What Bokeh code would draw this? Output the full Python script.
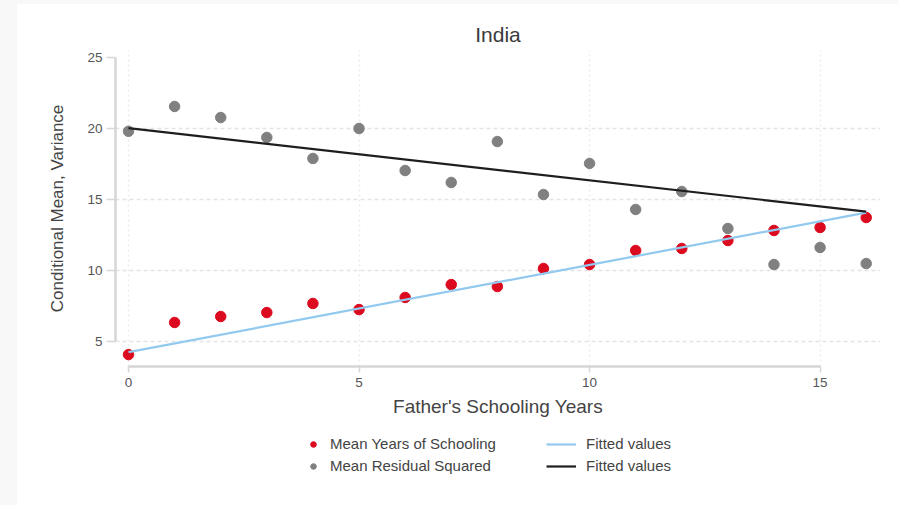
from bokeh.plotting import figure
from bokeh.models import (Legend, LegendItem, FixedTicker, Range1d, ColumnDataSource)
from bokeh.layouts import column
from bokeh.embed import file_html
from bokeh.resources import INLINE

# Father's schooling years (x) and conditional moments by group
father_years = list(range(17))
mean_schooling = [4.08, 6.34, 6.76, 7.04, 7.68, 7.25, 8.10, 9.01, 8.87,
                  10.14, 10.42, 11.41, 11.55, 12.11, 12.82, 13.03, 13.73]
mean_resid_sq = [19.80, 21.55, 20.77, 19.37, 17.89, 20.00, 17.04, 16.20, 19.08,
                 15.35, 17.54, 14.30, 15.56, 12.96, 10.42, 11.62, 10.49]

# Fitted values (linear fits) at the ends of the x span
fit_x = [0, 16]
fit_schooling = [4.25, 14.08]
fit_resid_sq = [20.02, 14.15]

x_ticks = [0, 5, 10, 15]
y_ticks = [5, 10, 15, 20, 25]

RED = "#dc0a1e"
GRAY = "#808080"
BLUE = "#92c9ee"
BLACK = "#1e1e1e"
FONT = "Liberation Sans"

src = ColumnDataSource(dict(x=father_years, school=mean_schooling, resid=mean_resid_sq))
fit_src = ColumnDataSource(dict(x=fit_x, school=fit_schooling, resid=fit_resid_sq))


def add_series(fig):
    """Draw both scatter series and both fitted lines on a figure."""
    r1 = fig.scatter("x", "school", source=src, size=10.5, color=RED, line_color=RED)
    r2 = fig.scatter("x", "resid", source=src, size=10.5, color=GRAY, line_color=GRAY)
    r3 = fig.line("x", "school", source=fit_src, line_color=BLUE, line_width=2.2)
    r4 = fig.line("x", "resid", source=fit_src, line_color=BLACK, line_width=2.2)
    return r1, r2, r3, r4


p = figure(width=881, height=421, output_backend="svg", toolbar_location=None,
           x_range=Range1d(-0.282, 16.31), y_range=Range1d(3.24, 25.49),
           min_border_left=98, min_border_right=18, min_border_top=46,
           min_border_bottom=59, background_fill_color="white",
           border_fill_color="white", outline_line_color=None,
           title="India")

p.title.align = "center"
p.title.text_font = FONT
p.title.text_font_size = "21px"
p.title.text_font_style = "normal"
p.title.text_color = "#3a3a3a"

add_series(p)

# Axes
for ax in (p.xaxis[0], p.yaxis[0]):
    ax.axis_line_color = "#d6d6d6"
    ax.axis_line_width = 2.5
    ax.major_tick_line_color = "#d6d6d6"
    ax.major_tick_line_width = 1.5
    ax.minor_tick_line_color = None
    ax.major_tick_in = 0
    ax.major_label_text_font = FONT
    ax.major_label_text_font_size = "13.5px"
    ax.major_label_text_color = "#555555"
    ax.axis_label_text_font = FONT
    ax.axis_label_text_font_style = "normal"
    ax.axis_label_text_color = "#444444"

p.xaxis.ticker = FixedTicker(ticks=x_ticks)
p.yaxis.ticker = FixedTicker(ticks=y_ticks)
p.xaxis.bounds = (0, 15)
p.yaxis.bounds = (5, 25)
p.xaxis.major_tick_out = 6
p.yaxis.major_tick_out = 9
p.xaxis.major_label_standoff = 5
p.yaxis.major_label_standoff = 4
p.yaxis.major_label_orientation = "horizontal"
p.xaxis.axis_label = "Father's Schooling Years"
p.yaxis.axis_label = "Conditional Mean, Variance"
p.xaxis.axis_label_text_font_size = "19px"
p.yaxis.axis_label_text_font_size = "17px"
p.xaxis.axis_label_standoff = 6
p.yaxis.axis_label_standoff = 17

# Grid
p.xgrid.ticker = FixedTicker(ticks=x_ticks)
p.ygrid.ticker = FixedTicker(ticks=[5, 10, 15, 20])
p.xgrid.grid_line_color = "#ececec"
p.xgrid.grid_line_dash = "2 3"
p.xgrid.grid_line_width = 1.5
p.ygrid.grid_line_color = "#e4e4e4"
p.ygrid.grid_line_dash = "4 3"
p.ygrid.grid_line_width = 1.5

# Legend strip below the chart; its view range keeps the series themselves hidden
key = figure(width=881, height=80, output_backend="svg", toolbar_location=None,
             x_range=Range1d(0, 1), y_range=Range1d(0, 1),
             min_border_left=98, min_border_right=18, min_border_top=0,
             min_border_bottom=0, outline_line_color=None,
             background_fill_color="white", border_fill_color="white")
key.axis.visible = False
key.grid.visible = False
k_school, k_resid, k_fit_s, k_fit_r = add_series(key)

legend_style = dict(
    label_text_font=FONT, label_text_font_size="15px", label_text_color="#444444",
    glyph_width=30, glyph_height=14, label_height=14,
    spacing=5, padding=8, margin=0,
    border_line_alpha=0, background_fill_alpha=0,
)
key.add_layout(Legend(
    items=[
        LegendItem(label="Mean Years of Schooling", renderers=[k_school]),
        LegendItem(label="Mean Residual Squared", renderers=[k_resid]),
    ],
    location=(175, 23), label_standoff=2, **legend_style,
))
key.add_layout(Legend(
    items=[
        LegendItem(label="Fitted values", renderers=[k_fit_s]),
        LegendItem(label="Fitted values", renderers=[k_fit_r]),
    ],
    location=(423, 23), label_standoff=10, **legend_style,
))

page = column(p, key, spacing=0,
              styles={"background-color": "white",
                      "border-left": "17px solid #f8f8f8",
                      "border-top": "4px solid #f8f8f8"})

open("out.html", "w").write(file_html(page, INLINE))
